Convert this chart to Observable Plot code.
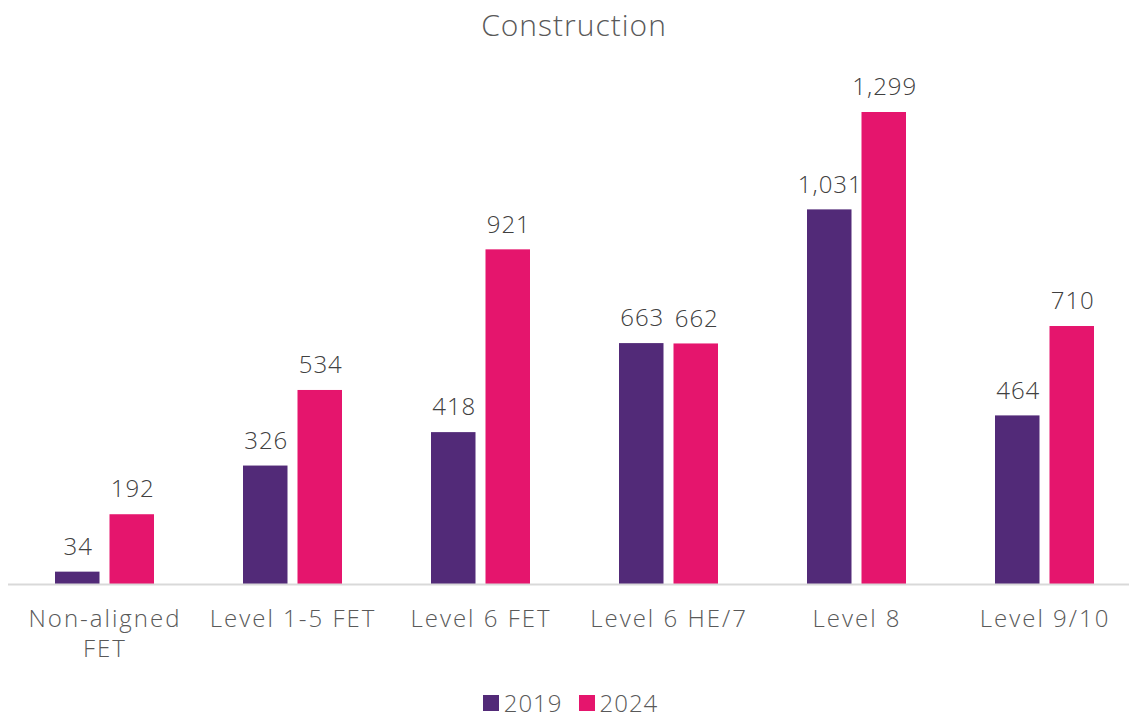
<!DOCTYPE html>
<html>
<head>
<meta charset="utf-8">
<script src="https://cdn.jsdelivr.net/npm/d3@7"></script>
<script src="https://cdn.jsdelivr.net/npm/@observablehq/plot@0.6"></script>
<style>
  html, body { margin: 0; padding: 0; background: #fff; font-family: "Open Sans", Lato, sans-serif; font-weight: 300; overflow: hidden; }
  #title { height: 52px; line-height: 50px; text-align: center; padding-left: 19px; font-size: 30px; letter-spacing: 1px; color: #595959; font-weight: 300; }
  #chart svg { display: block; }
  #legend { height: 34px; padding-top: 8px; box-sizing: border-box; line-height: 1; display: flex; justify-content: center; align-items: center; gap: 16px; padding-left: 12px; font-size: 24px; letter-spacing: 1px; color: #595959; }
  .item { display: flex; align-items: center; gap: 5px; }
  .sw { width: 16px; height: 16px; display: inline-block; }
</style>
</head>
<body>
<div id="title">Construction</div>
<div id="chart"></div>
<div id="legend"></div>
<script>
const categories = ["Non-aligned\nFET", "Level 1-5 FET", "Level 6 FET", "Level 6 HE/7", "Level 8", "Level 9/10"];
const series = ["2019", "2024"];
const values2019 = [34, 326, 418, 663, 1031, 464];
const values2024 = [192, 534, 921, 662, 1299, 710];
const colors = ["#522A78", "#E5156D"];

const data = [];
categories.forEach((c, i) => {
  data.push({category: c, year: "2019", value: values2019[i]});
  data.push({category: c, year: "2024", value: values2024[i]});
});
const d19 = data.filter(d => d.year === "2019");
const d24 = data.filter(d => d.year === "2024");

const pair = 99, barW = 44.5, off = (pair - barW);
const fmt = d3.format(",");

const chart = Plot.plot({
  width: 1129,
  height: 630,
  marginLeft: 8,
  marginRight: 0,
  marginTop: 0,
  marginBottom: 98,
  style: {fontFamily: "'Open Sans', Lato, sans-serif", fontWeight: 300, background: "#fff"},
  x: {domain: categories, range: [8.15, 1140.35], paddingInner: 0.4754, paddingOuter: 0.2377, label: null},
  y: {domain: [0, 1299], range: [532, 60], axis: null},
  marks: [
    Plot.barY(d19, {x: "category", y: "value", fill: colors[0], insetRight: off}),
    Plot.barY(d24, {x: "category", y: "value", fill: colors[1], insetLeft: off}),
    Plot.ruleY([0], {stroke: "#D9D9D9", strokeWidth: 2}),
    Plot.text(d19, {x: "category", y: "value", text: d => fmt(d.value), dx: -26.75, dy: -25, lineAnchor: "middle", fontSize: 24, fill: "#404040"}),
    Plot.text(d24, {x: "category", y: "value", text: d => fmt(d.value), dx: 27.75, dy: -25, lineAnchor: "middle", fontSize: 24, fill: "#404040"}),
    Plot.axisX({tickSize: 0, tickPadding: 21, fontSize: 24, lineHeight: 1.25, color: "#595959", label: null})
  ]
});
chart.querySelectorAll("text").forEach(t => t.style.letterSpacing = "1px");
chart.querySelectorAll('[aria-label="x-axis tick label"] text').forEach(t => t.style.letterSpacing = "2px");
document.getElementById("chart").appendChild(chart);

const legend = document.getElementById("legend");
series.forEach((s, i) => {
  const item = document.createElement("span");
  item.className = "item";
  const sw = document.createElement("span");
  sw.className = "sw";
  sw.style.background = colors[i];
  item.appendChild(sw);
  item.appendChild(document.createTextNode(s));
  legend.appendChild(item);
});
</script>
</body>
</html>
